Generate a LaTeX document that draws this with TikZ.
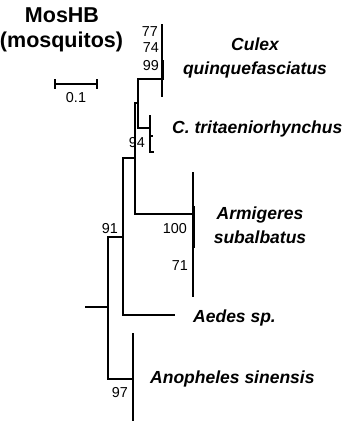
\documentclass[tikz,border=0pt]{standalone}
\usepackage{fontspec}
\setmainfont{Liberation Sans}
\usetikzlibrary{positioning}
\tikzset{
  branch/.style={line width=1.3pt},
  clade/.style={line width=3pt},
  taxon/.style={font=\fontsize{17.5}{21}\selectfont\bfseries\itshape, inner sep=0pt},
  boot/.style={font=\fontsize{14.4}{17}\selectfont, inner sep=0pt},
  heading/.style={font=\fontsize{21.5}{26}\selectfont\bfseries, inner sep=0pt, anchor=base},
}

\begin{document}
\begin{tikzpicture}[x=1pt, y=-1pt]
  \useasboundingbox (0,0) rectangle (347,423);

  % 标题
  \node[heading] (title) at (62,22) {MosHB};
  \node[heading] (subtitle) at (61.5,47) {(mosquitos)};

  % 标尺 0.1
  \draw[branch] (55,84) -- (97,84);
  \draw[branch] (55,79) -- (55,89);
  \draw[branch] (97,79) -- (97,89);
  \node[boot, anchor=base] (scalelab) at (76,102) {0.1};

  % Culex quinquefasciatus
  \draw[branch] (162,24) -- (162,97);
  \draw[clade] (162,60) -- (162,80);
  \draw[branch] (162,79) -- (138,79) -- (138,128) -- (150,128);
  \node[boot, anchor=base east] (bsA) at (158,36) {77};
  \node[boot, anchor=base east] (bsB) at (159,52) {74};
  \node[boot, anchor=base east] (bsC) at (159,70) {99};

  % C. tritaeniorhynchus
  \draw[branch] (150,115) -- (150,152) -- (154,152);
  \draw[branch] (150,136) -- (153,136);

  % 主干
  \draw[branch] (138,103) -- (135,103) -- (135,214) -- (193,214);
  \draw[branch] (135,158) -- (123,158) -- (123,315) -- (175,315);
  \draw[branch] (123,237) -- (108,237) -- (108,379) -- (133,379);
  \draw[branch] (85,307) -- (108,307);
  \node[boot, anchor=base] (bsD) at (137,147) {94};
  \node[boot, anchor=base] (bsE) at (110,233) {91};

  % Armigeres subalbatus
  \draw[branch] (193,172) -- (193,297);
  \draw[clade] (193,206) -- (193,248);
  \node[boot, anchor=base east] (bsF) at (187,233) {100};
  \node[boot, anchor=base east] (bsG) at (188,270) {71};

  % Anopheles sinensis
  \draw[branch] (133,333) -- (133,421);
  \node[boot, anchor=base] (bsH) at (120,397) {97};

  % 物种名
  \node[taxon, anchor=base] (culexA) at (255,50) {Culex};
  \node[taxon, anchor=base] (culexB) at (255,74) {quinquefasciatus};
  \node[taxon, anchor=base west] (tritae) at (172,133) {C. tritaeniorhynchus};
  \node[taxon, anchor=base] (armigA) at (260,219) {Armigeres};
  \node[taxon, anchor=base] (armigB) at (260,243) {subalbatus};
  \node[taxon, anchor=base west] (aedes) at (193,322) {Aedes sp.};
  \node[taxon, anchor=base west] (anoph) at (150,383) {Anopheles sinensis};
\end{tikzpicture}
\end{document}
